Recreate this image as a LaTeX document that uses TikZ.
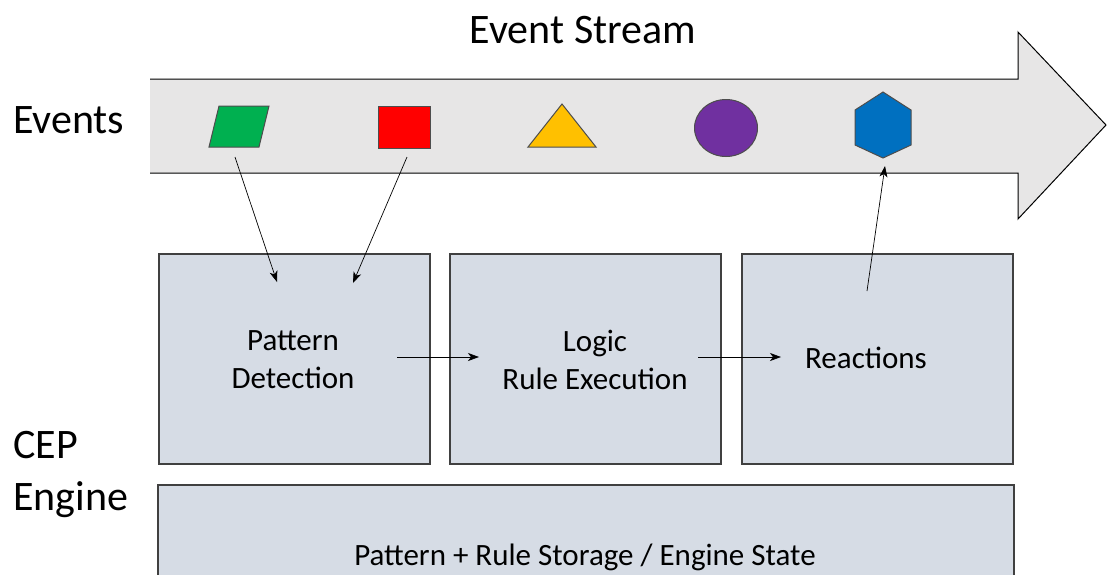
\documentclass[tikz,border=0pt]{standalone}
\usepackage{fontspec}
\setmainfont{Carlito}
\usetikzlibrary{arrows.meta}
\definecolor{streamfill}{HTML}{E7E6E6}
\definecolor{boxfill}{HTML}{D6DCE5}
\definecolor{boxline}{HTML}{404040}
\definecolor{shapeline}{HTML}{4D4D4D}
\definecolor{evgreen}{HTML}{00B050}
\definecolor{evred}{HTML}{FF0000}
\definecolor{evyellow}{HTML}{FFC000}
\definecolor{evpurple}{HTML}{7030A0}
\definecolor{evblue}{HTML}{0070C0}
\tikzset{
  stagebox/.style={draw=boxline, fill=boxfill, line width=1.5pt},
  evshape/.style={draw=shapeline, line width=1pt},
  flow/.style={draw=black, line width=0.7pt, -{Stealth[length=11pt,width=8pt,inset=3pt]}},
  boxtext/.style={font=\fontsize{31}{38}\selectfont, align=center, inner sep=0pt},
  bigtext/.style={font=\fontsize{42}{48}\selectfont, inner sep=0pt},
}
\begin{document}
\begin{tikzpicture}[x=1pt, y=-1pt]
\useasboundingbox (0,0) rectangle (1107,574);

% stream arrow
\fill[streamfill] (150,79) -- (1018,79) -- (1018,32) -- (1106,125) -- (1018,219) -- (1018,173) -- (150,173) -- cycle;
\draw[line width=1pt] (150,79) -- (1018,79) -- (1018,32) -- (1106,125) -- (1018,219) -- (1018,173) -- (150,173);
\node[bigtext] (title) at (583,30) {Event Stream};
\node[bigtext, anchor=base west] (events) at (13,133) {Events};

% events on the stream
\filldraw[evshape, fill=evgreen] (209,147) -- (259,147) -- (269,106) -- (219,106) -- cycle;
\filldraw[evshape, fill=evred] (378,106) rectangle (430,148);
\filldraw[evshape, fill=evyellow] (528,147) -- (596,147) -- (562,104) -- cycle;
\filldraw[evshape, fill=evpurple] (726,128) ellipse [x radius=31.5, y radius=28.5];
\filldraw[evshape, fill=evblue] (883,92) -- (911,110) -- (911,145) -- (883,158) -- (855,145) -- (855,110) -- cycle;

\coordinate (greenout) at (235,157);
\coordinate (redout) at (407,157);
\coordinate (bluein) at (885,166);

% engine stages
\node[stagebox, minimum width=271pt, minimum height=210pt, anchor=north west] (detect) at (158,253) {};
\node[stagebox, minimum width=271pt, minimum height=210pt, anchor=north west] (logic) at (449,253) {};
\node[stagebox, minimum width=271pt, minimum height=210pt, anchor=north west] (react) at (741,253) {};
\node[stagebox, minimum width=856pt, minimum height=110pt, anchor=north west] (storage) at (157,484) {};

\node[boxtext] (detecttext) at (293,360) {Pattern\\Detection};
\node[boxtext] (logictext) at (595,360) {Logic\\Rule Execution};
\node[boxtext] (reacttext) at (866,358) {Reactions};
\node[boxtext] (storagetext) at (585,557) {Pattern + Rule Storage / Engine State};

\node[bigtext, anchor=base west] (cep) at (13,458) {CEP};
\node[bigtext, anchor=base west] (engine) at (13,510) {Engine};

\coordinate (detectin1) at (277,282);
\coordinate (detectin2) at (353,283);
\coordinate (detectout) at (397,357);
\coordinate (logicin) at (479,357);
\coordinate (logicout) at (698,357);
\coordinate (reactin) at (781,357);
\coordinate (reactout) at (867,291);

% connectors
\draw[flow] (greenout) -- (detectin1);
\draw[flow] (redout) -- (detectin2);
\draw[flow] (detectout) -- (logicin);
\draw[flow] (logicout) -- (reactin);
\draw[flow] (reactout) -- (bluein);
\end{tikzpicture}
\end{document}
